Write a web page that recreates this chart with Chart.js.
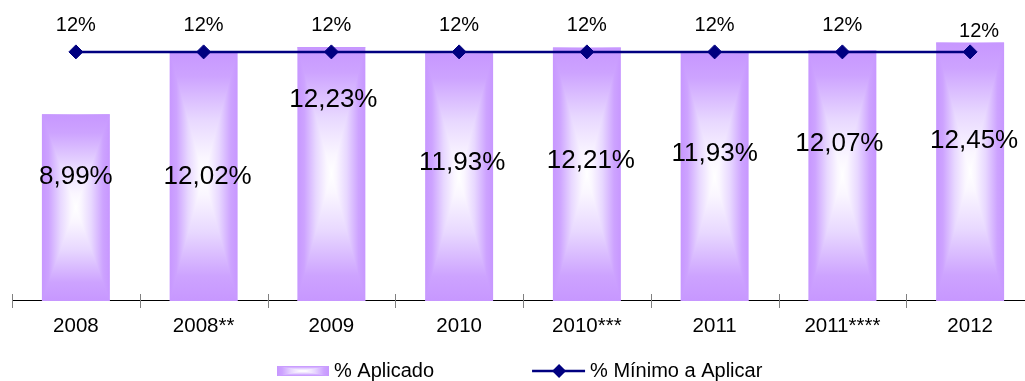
<!DOCTYPE html>
<html>
<head>
<meta charset="utf-8">
<script src="https://cdn.jsdelivr.net/npm/chart.js@4/dist/chart.umd.min.js"></script>
<style>
  html, body { margin: 0; padding: 0; background: #fff; overflow: hidden; }
  #wrap { position: relative; width: 1040px; height: 381px; }
</style>
</head>
<body>
<div id="wrap"><canvas id="chart"></canvas></div>
<script>
// categories and series
const years = ["2008", "2008**", "2009", "2010", "2010***", "2011", "2011****", "2012"];
const aplicado = [8.99, 12.02, 12.23, 11.93, 12.21, 11.93, 12.07, 12.45];
const minimo = [12, 12, 12, 12, 12, 12, 12, 12];

// where the value text sits inside each bar (axis units) and small x nudges (px)
const barLabelAt = [6.0, 6.0, 9.7, 6.65, 6.75, 7.1, 7.55, 7.7];
const barLabelDx = [0, 4, 2, 3, 4, 0, -3, 4];
const lineLabelNudge = [[0, 0], [0, 0], [0, 0], [0, 0], [0, 0], [0, 0], [0, 0], [9, 6]];

const FONT = "'Liberation Sans', Arial, Helvetica, sans-serif";
const NAVY = "#000080";

const fmtPct = v => v.toFixed(2).replace(".", ",") + "%";

// stops for a purple edge -> white centre fade, t = 0 at edge, 1 at centre
const fadeStops = [
    [0, "#C797FF"],
    [0.2, "#CDA3FF"],
    [0.55, "#E8D8FF"],
    [0.85, "#FAF6FF"],
    [1, "#FFFFFF"]
];

function symmetricGradient(ctx, x0, y0, x1, y1) {
    const g = ctx.createLinearGradient(x0, y0, x1, y1);
    fadeStops.forEach(([t, c]) => {
        g.addColorStop(t / 2, c);
        g.addColorStop(1 - t / 2, c);
    });
    return g;
}

// rectangular "from centre" gradient fill
function paintRect(ctx, x0, y0, w, h) {
    const cx = x0 + w / 2, cy = y0 + h / 2;
    ctx.save();
    ctx.fillStyle = symmetricGradient(ctx, x0, 0, x0 + w, 0);
    ctx.fillRect(x0, y0, w, h);
    ctx.fillStyle = symmetricGradient(ctx, 0, y0, 0, y0 + h);
    ctx.beginPath();
    ctx.moveTo(x0, y0);
    ctx.lineTo(x0 + w, y0);
    ctx.lineTo(cx, cy);
    ctx.closePath();
    ctx.moveTo(x0, y0 + h);
    ctx.lineTo(x0 + w, y0 + h);
    ctx.lineTo(cx, cy);
    ctx.closePath();
    ctx.fill();
    ctx.restore();
}

const barGradient = {
    id: "barGradient",
    afterDatasetDraw(chart, args) {
        if (args.index !== 0) return;
        const ctx = chart.ctx;
        args.meta.data.forEach(bar => {
            const { x, y, base, width } = bar.getProps(["x", "y", "base", "width"], true);
            paintRect(ctx, x - width / 2, y, width, base - y);
        });
    }
};

const axisTicks = {
    id: "axisTicks",
    afterDraw(chart) {
        const sx = chart.scales.x;
        const ctx = chart.ctx;
        const yAxis = Math.round(chart.chartArea.bottom);
        const step = (sx.right - sx.left) / years.length;
        ctx.save();
        ctx.strokeStyle = "#808080";
        ctx.lineWidth = 1;
        ctx.beginPath();
        for (let i = 0; i <= years.length; i++) {
            const x = Math.round(sx.left + i * step) + 0.5;
            ctx.moveTo(x, yAxis - 7);
            ctx.lineTo(x, yAxis + 7);
        }
        ctx.stroke();
        ctx.restore();
    }
};

const valueLabels = {
    id: "valueLabels",
    afterDatasetsDraw(chart) {
        const ctx = chart.ctx;
        const sy = chart.scales.y;
        ctx.save();
        ctx.fillStyle = "#000";
        ctx.textAlign = "center";
        ctx.textBaseline = "middle";

        ctx.font = "26px " + FONT;
        chart.getDatasetMeta(0).data.forEach((bar, i) => {
            ctx.fillText(fmtPct(aplicado[i]), bar.x + barLabelDx[i], sy.getPixelForValue(barLabelAt[i]));
        });

        ctx.font = "20px " + FONT;
        chart.getDatasetMeta(1).data.forEach((pt, i) => {
            const [dx, dy] = lineLabelNudge[i];
            ctx.fillText(minimo[i] + "%", pt.x + dx, pt.y - 26 + dy);
        });
        ctx.restore();
    }
};

const bottomLegend = {
    id: "bottomLegend",
    afterDraw(chart) {
        const ctx = chart.ctx;
        const labels = chart.data.datasets.map(d => d.label);
        ctx.save();
        ctx.font = "20px " + FONT;
        ctx.textBaseline = "middle";
        ctx.textAlign = "left";
        const w1 = ctx.measureText(labels[0]).width;
        const w2 = ctx.measureText(labels[1]).width;
        const total = 52 + 5 + w1 + 98 + 53 + 5 + w2;
        const yMid = 371;
        let x = Math.round(chart.width / 2 - total / 2);

        paintRect(ctx, x, yMid - 5, 52, 10);
        x += 52 + 5;
        ctx.fillStyle = "#000";
        ctx.fillText(labels[0], x, yMid);
        x += w1 + 98;

        ctx.strokeStyle = NAVY;
        ctx.lineWidth = 2.5;
        ctx.beginPath();
        ctx.moveTo(x, yMid);
        ctx.lineTo(x + 53, yMid);
        ctx.stroke();
        const dcx = x + 27;
        ctx.fillStyle = NAVY;
        ctx.beginPath();
        ctx.moveTo(dcx - 7, yMid);
        ctx.lineTo(dcx, yMid - 7);
        ctx.lineTo(dcx + 7, yMid);
        ctx.lineTo(dcx, yMid + 7);
        ctx.closePath();
        ctx.fill();
        x += 53 + 5;
        ctx.fillStyle = "#000";
        ctx.fillText(labels[1], x, yMid);
        ctx.restore();
    }
};

new Chart(document.getElementById("chart"), {
    data: {
        labels: years,
        datasets: [
            {
                type: "bar",
                label: "% Aplicado",
                data: aplicado,
                backgroundColor: "rgba(0,0,0,0)",
                borderWidth: 0,
                categoryPercentage: 1,
                barPercentage: 0.532,
                order: 1
            },
            {
                type: "line",
                label: "% Mínimo a Aplicar",
                data: minimo,
                borderColor: NAVY,
                borderWidth: 2.5,
                pointStyle: "rectRot",
                pointRadius: 7,
                pointBackgroundColor: NAVY,
                pointBorderColor: NAVY,
                pointBorderWidth: 1,
                tension: 0,
                clip: false,
                order: 0
            }
        ]
    },
    options: {
        responsive: true,
        maintainAspectRatio: false,
        animation: false,
        events: [],
        layout: { autoPadding: false, padding: { left: 12, right: 6, top: 0, bottom: 28.5 } },
        plugins: {
            legend: { display: false },
            tooltip: { enabled: false }
        },
        scales: {
            x: {
                offset: true,
                grid: { display: false, drawTicks: false },
                border: { display: true, color: "#000", width: 1 },
                ticks: {
                    color: "#000",
                    font: { family: FONT, size: 20.5 },
                    padding: 13.5,
                    maxRotation: 0,
                    autoSkip: false
                }
            },
            y: {
                display: false,
                min: 0,
                max: 14.5
            }
        }
    },
    plugins: [barGradient, axisTicks, valueLabels, bottomLegend]
});
</script>
</body>
</html>
